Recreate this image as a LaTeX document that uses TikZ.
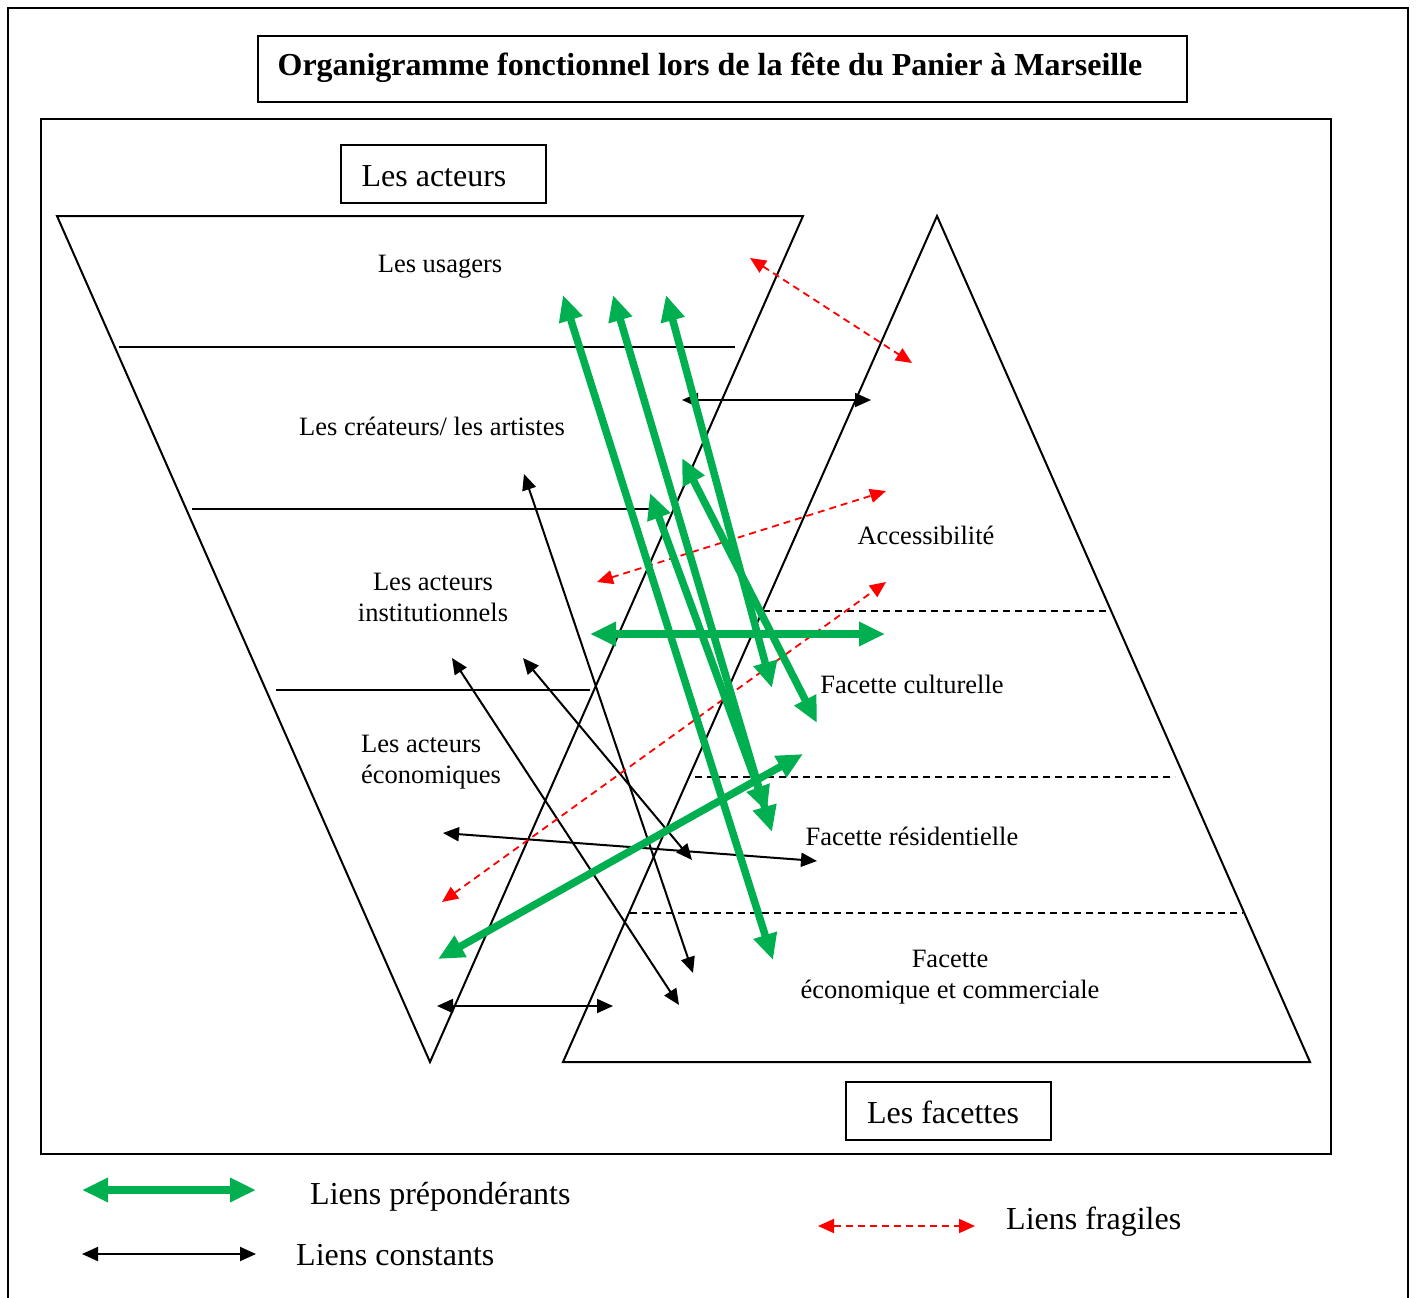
\documentclass[tikz,border=0pt]{standalone}
\usepackage{fontspec}
\setmainfont{Liberation Serif}
\usetikzlibrary{arrows.meta}
\definecolor{lgreen}{RGB}{0,176,80}
\begin{document}
\begin{tikzpicture}[x=1pt,y=-1pt,
 frame/.style={draw,line width=2pt},
 outline/.style={draw,line width=2pt,line join=miter},
 sepline/.style={line width=2pt},
 dsep/.style={line width=2pt,dash pattern=on 7pt off 5pt},
 lab/.style={font=\fontsize{26.5}{31}\selectfont,inner sep=0,anchor=base},
 big/.style={font=\fontsize{32}{36}\selectfont,inner sep=0,anchor=base},
 strong/.style={draw=lgreen,line width=7.5pt,{Triangle[length=26pt,width=23pt]}-{Triangle[length=26pt,width=23pt]}},
 const/.style={draw=black,line width=2pt,{Triangle[length=16pt,width=14pt]}-{Triangle[length=16pt,width=14pt]}},
 weak/.style={draw=red,line width=1.8pt,dash pattern=on 7pt off 5pt,{Triangle[length=16pt,width=14pt]}-{Triangle[length=16pt,width=14pt]}},
]
\useasboundingbox (0,0) rectangle (1416,1298);
\fill[white] (0,0) rectangle (1416,1298);
% outer frame (open at bottom)
\draw[frame] (8,1298) -- (8,8) -- (1408,8) -- (1408,1298);
% title
\draw[frame] (258,36) rectangle (1187,102);
\node[big,font=\fontsize{32}{36}\selectfont\bfseries] (title) at (710,76) {Organigramme fonctionnel lors de la fête du Panier à Marseille};
% inner frame
\draw[frame] (41,119) rectangle (1331,1154);
% box labels
\draw[frame] (341,145) rectangle (546,203);
\node[big] (acteurs) at (434,186) {Les acteurs};
\draw[frame] (846,1082) rectangle (1051,1140);
\node[big] (facettes) at (943,1123) {Les facettes};
% triangles
\draw[outline] (57,216) -- (803,216) -- (430,1062) -- cycle;
\draw[outline] (937,216) -- (1310,1062) -- (563,1062) -- cycle;
% separators
\draw[sepline] (119,347) -- (735,347);
\draw[sepline] (192,509) -- (665,509);
\draw[sepline] (276,690) -- (590,690);
\draw[dsep] (763,611) -- (1110,611);
\draw[dsep] (695,777) -- (1175,777);
\draw[dsep] (630,913) -- (1243,913);
% labels left
\node[lab] (usagers) at (440,272) {Les usagers};
\node[lab] (createurs) at (432,435) {Les créateurs/ les artistes};
\node[lab] (inst1) at (433,590) {Les acteurs};
\node[lab] (inst2) at (433,621) {institutionnels};
\node[lab,anchor=base west] (eco1) at (361,752) {Les acteurs};
\node[lab,anchor=base west] (eco2) at (361,783) {économiques};
% labels right
\node[lab] (access) at (926,544) {Accessibilité};
\node[lab] (cult) at (912,693) {Facette culturelle};
\node[lab] (resid) at (912,845) {Facette résidentielle};
\node[lab] (ecom1) at (950,967) {Facette};
\node[lab] (ecom2) at (950,998) {économique et commerciale};
% endpoints
\coordinate (g1a) at (563,295); \coordinate (g1b) at (773,960);
\coordinate (g2a) at (613,295); \coordinate (g2b) at (772,832);
\coordinate (g3a) at (666,295); \coordinate (g3b) at (772,688);
\coordinate (g4a) at (682,458); \coordinate (g4b) at (817,723);
\coordinate (g5a) at (650,493); \coordinate (g5b) at (767,812);
\coordinate (g6a) at (590,634); \coordinate (g6b) at (885,634);
\coordinate (g7a) at (438,959); \coordinate (g7b) at (803,754);
\coordinate (b1a) at (682,400); \coordinate (b1b) at (871,400);
\coordinate (b2a) at (524,474); \coordinate (b2b) at (693,973);
\coordinate (b3a) at (452,658); \coordinate (b3b) at (679,1005);
\coordinate (b4a) at (523,658); \coordinate (b4b) at (692,860);
\coordinate (b5a) at (443,833); \coordinate (b5b) at (817,861);
\coordinate (b6a) at (437,1006); \coordinate (b6b) at (613,1006);
\coordinate (r1a) at (750,258); \coordinate (r1b) at (912,363);
\coordinate (r2a) at (597,582); \coordinate (r2b) at (886,491);
\coordinate (r3a) at (442,902); \coordinate (r3b) at (886,582);
% constant links
\draw[const] (b1a) -- (b1b);
\draw[const] (b2a) -- (b2b);
\draw[const] (b3a) -- (b3b);
\draw[const] (b4a) -- (b4b);
\draw[const] (b5a) -- (b5b);
\draw[const] (b6a) -- (b6b);
% fragile links
\draw[weak] (r1a) -- (r1b);
\draw[weak] (r2a) -- (r2b);
\draw[weak] (r3a) -- (r3b);
% strong links
\draw[strong] (g1a) -- (g1b);
\draw[strong] (g2a) -- (g2b);
\draw[strong] (g3a) -- (g3b);
\draw[strong] (g4a) -- (g4b);
\draw[strong] (g5a) -- (g5b);
\draw[strong] (g6a) -- (g6b);
\draw[strong] (g7a) -- (g7b);
% legend
\coordinate (lg1) at (82,1190); \coordinate (lg2) at (256,1190);
\draw[strong] (lg1) -- (lg2);
\node[big,anchor=base west] (lgtext) at (310,1204) {Liens prépondérants};
\coordinate (lb1) at (82,1254); \coordinate (lb2) at (256,1254);
\draw[const] (lb1) -- (lb2);
\node[big,anchor=base west] (lbtext) at (296,1265) {Liens constants};
\coordinate (lr1) at (818,1226); \coordinate (lr2) at (975,1226);
\draw[weak] (lr1) -- (lr2);
\node[big,anchor=base west] (lrtext) at (1006,1229) {Liens fragiles};
\end{tikzpicture}
\end{document}
